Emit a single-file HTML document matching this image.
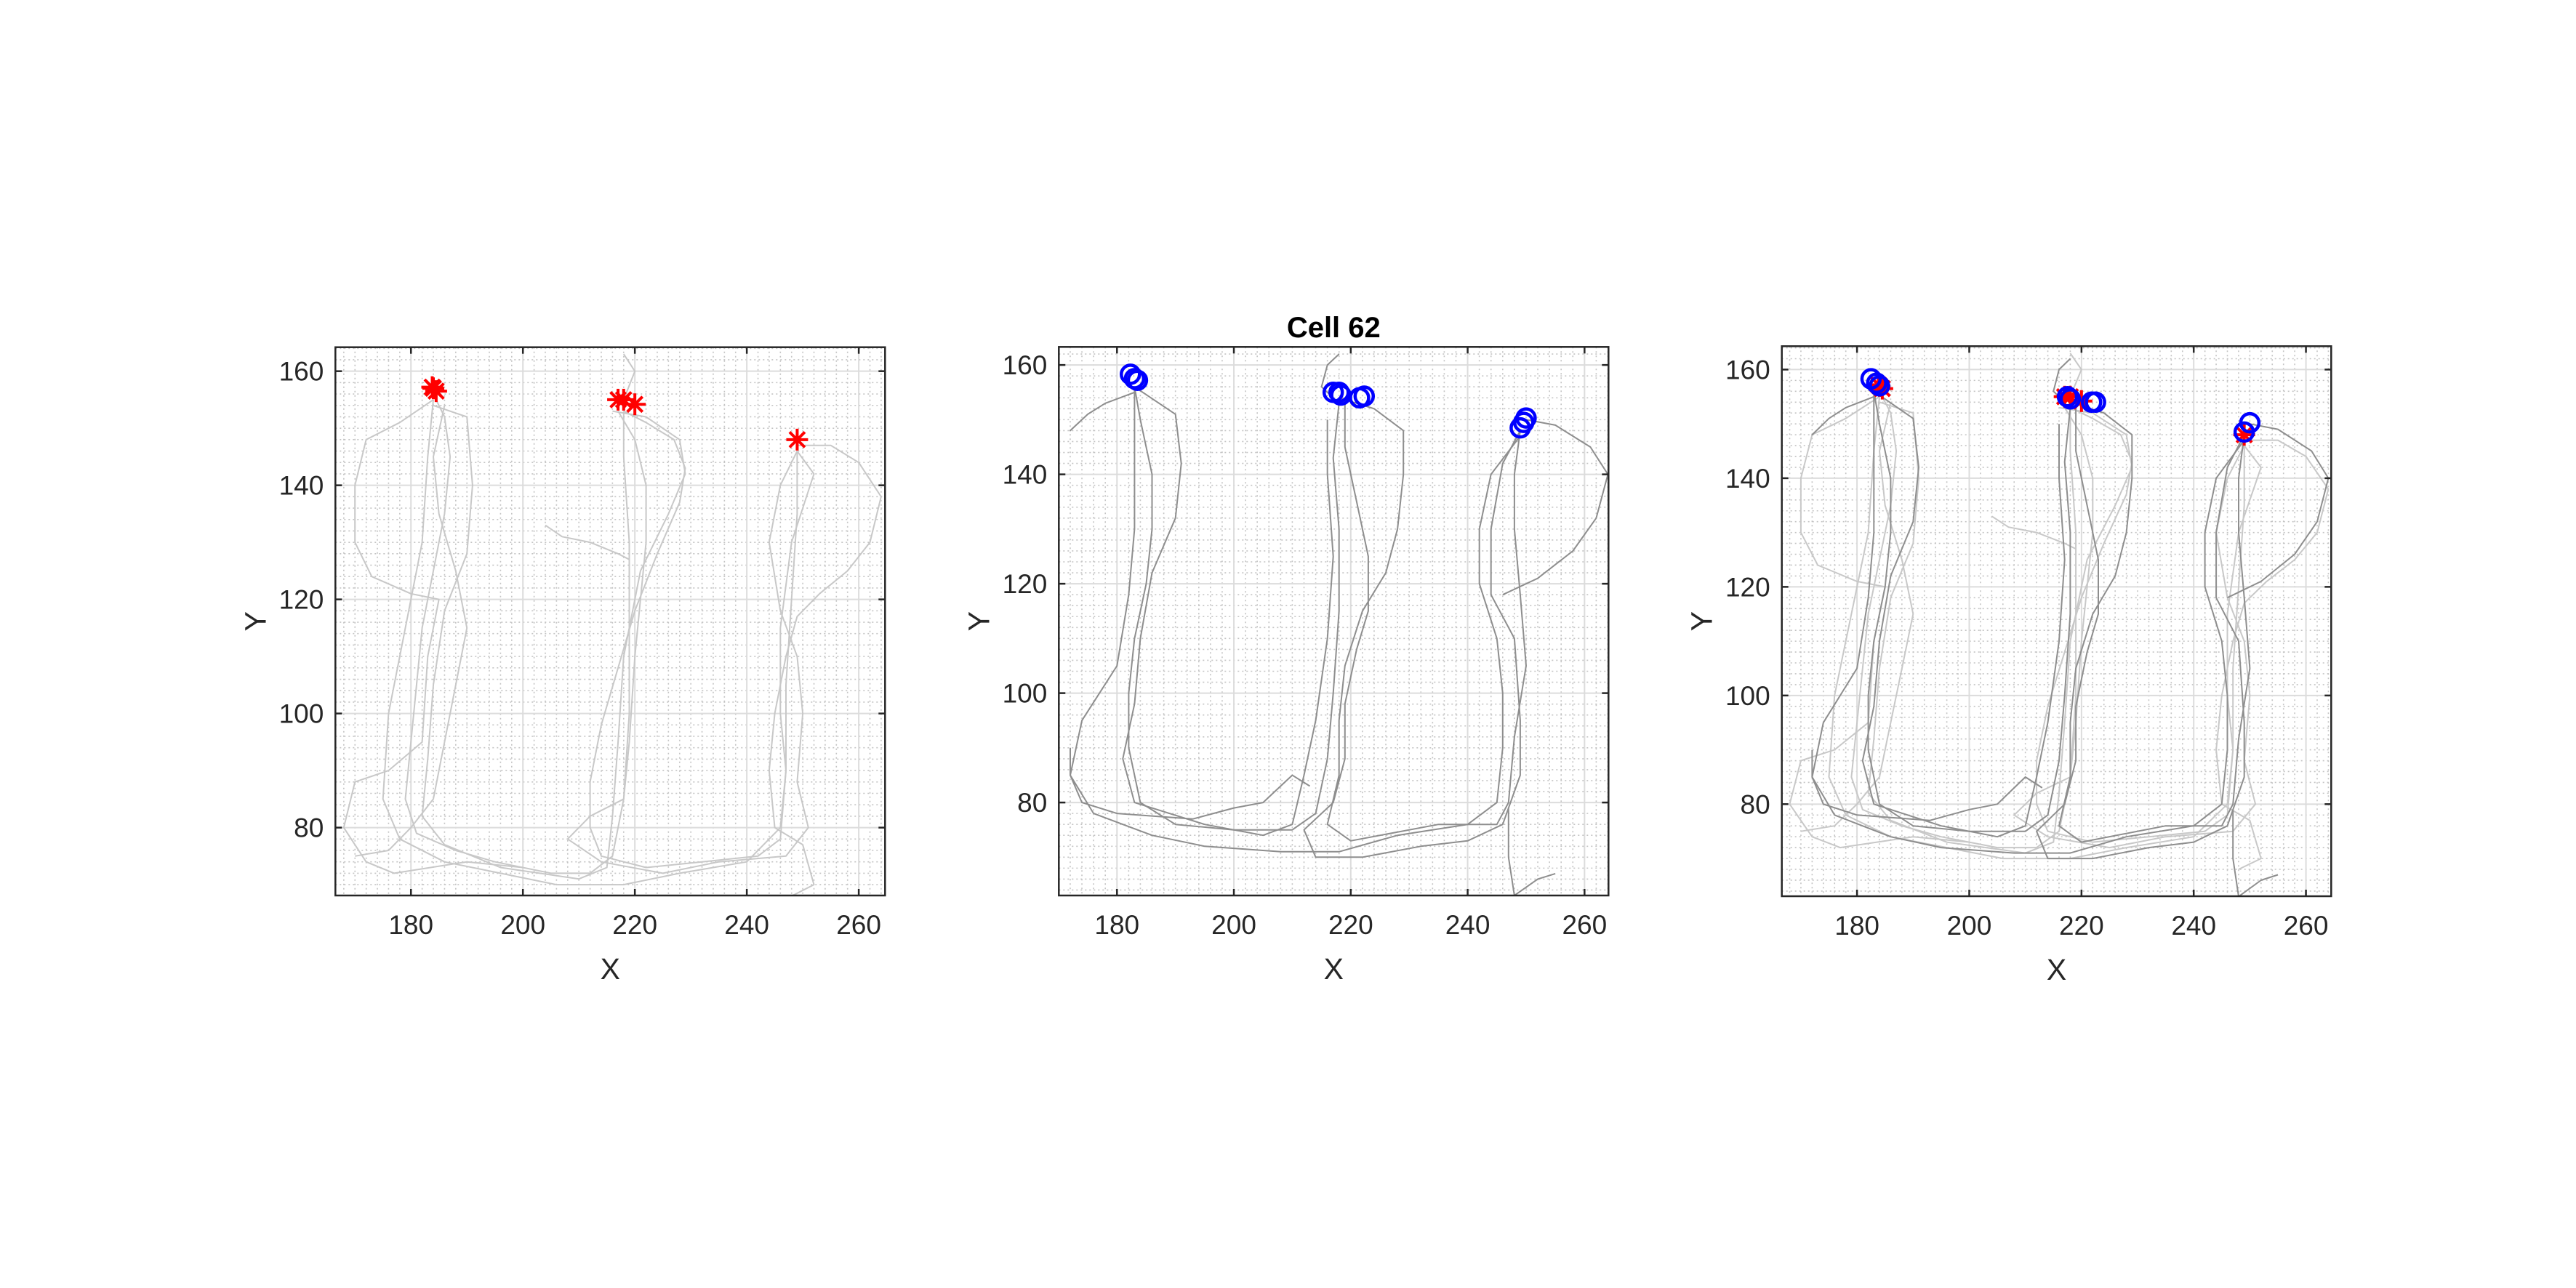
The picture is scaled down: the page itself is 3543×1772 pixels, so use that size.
<!DOCTYPE html>
<html><head><meta charset="utf-8"><style>
html,body{margin:0;padding:0;background:#fff;}
svg{display:block;}
text{font-family:"Liberation Sans",Arial,sans-serif;}
</style></head><body>
<svg id="fig" width="3543" height="1772" viewBox="0 0 3543 1772" xmlns="http://www.w3.org/2000/svg">
<rect width="3543" height="1772" fill="#fff"/>
</svg>
<script>
// ---- data ----
const xTicks = [180, 200, 220, 240, 260];
const yTicks = [80, 100, 120, 140, 160];
const sessionA = [
 [[184,156],[186,152],[187,145],[186,135],[184,125],[182,115],[181,105],[180,95],[179,85],[181,79],[188,76],[195,74],[205,72],[212,72],[216,75],[218,85],[219,100],[219,115],[219,130],[218,145],[218,153]],
 [[218,153],[222,151],[227,148],[229,143],[228,137],[224,128],[220,118],[217,108],[214,98],[212,88],[212,80],[214,75],[222,73],[232,74],[242,75],[246,78],[247,90],[247,105],[248,120],[249,135],[249,146]],
 [[249,146],[252,142],[248,130],[246,115],[246,100],[247,90],[246,80],[240,74],[228,72],[218,70],[206,70],[196,72],[186,74],[178,78],[175,85],[176,100],[179,115],[182,130],[183,145],[184,155]],
 [[184,154],[190,152],[191,140],[190,128],[186,118],[184,105],[183,92],[182,82],[186,77],[196,73],[210,71],[215,73],[216,82],[217,95],[218,110],[221,125],[226,135],[229,142],[228,148],[222,152],[216,153]],
 [[184,155],[178,151],[172,148],[170,140],[170,130],[173,124],[180,121],[185,120],[183,110],[182,95],[176,90],[170,88],[168,80],[172,74],[177,72],[190,74],[200,73]],
 [[249,147],[255,147],[260,144],[264,138],[262,130],[258,125],[253,121],[249,117],[247,110],[245,100],[244,90],[245,80],[250,77],[252,70],[248,68]],
 [[249,146],[246,140],[244,130],[246,118],[249,110],[250,100],[249,88],[251,80],[247,75],[235,74],[225,72],[214,74],[208,78],[212,82],[218,85],[219,95],[220,110],[221,120],[222,130],[222,140],[220,148],[217,153]],
 [[204,133],[207,131],[212,130],[217,128],[219,127]],
 [[218,163],[220,160],[218,155]],
 [[186,154],[184,145],[185,135],[188,125],[190,115],[188,105],[186,95],[184,85],[180,80],[176,76],[170,75]]
];
const sessionB = [
 [[183,156],[184,150],[186,140],[186,130],[185,120],[183,110],[182,100],[182,90],[184,80],[190,76],[200,75],[210,75],[214,78],[216,88],[217,100],[218,115],[218,130],[217,143],[218,153]],
 [[218,154],[224,152],[229,148],[229,140],[228,130],[226,122],[222,115],[219,105],[218,95],[218,85],[216,76],[220,73],[235,76],[245,76],[247,80],[248,92],[250,105],[249,118],[248,130],[248,140],[249,148]],
 [[249,147],[244,140],[242,130],[242,120],[245,110],[246,100],[246,90],[245,80],[240,76],[228,74],[218,71],[208,71],[195,72],[186,74],[176,78],[172,85],[174,95],[180,105],[182,118],[183,130],[183,145],[183,156]],
 [[183,156],[190,151],[191,142],[190,132],[186,122],[184,110],[183,98],[181,88],[183,80],[195,76],[205,74],[210,76],[212,85],[214,95],[216,110],[217,125],[216,140],[216,150]],
 [[219,154],[219,145],[221,135],[223,125],[223,115],[221,108],[219,98],[219,88],[217,80],[212,75],[214,70],[222,70],[232,72],[240,73],[246,76],[249,85],[249,95],[248,110],[244,118],[244,130],[246,142],[249,148]],
 [[250,150],[255,149],[261,145],[264,140],[262,132],[258,126],[252,121],[246,118]],
 [[183,155],[178,153],[175,151],[172,148],[174,150]],
 [[247,79],[247,70],[248,63],[252,66],[255,67]],
 [[213,83],[210,85],[207,82],[205,80],[200,79],[193,77],[180,78],[174,80],[172,85],[172,90]],
 [[218,162],[216,160],[215,156],[217,154]]
];
const spikeX = [184,184.5,183.8,217,218,220,249];
const spikeY = [157,156.5,157.2,155,155,154.2,148];
const circX = [182.3,183,183.5,217,218,218.3,221.5,222.3,249,249.6,250];
const circY = [158.3,157.5,157.2,155,155,154.5,154,154.3,148.5,149.5,150.3];
const circRX = [182.5,183.5,184,217.5,218,221.8,222.5,249,250];
const circRY = [158.3,157.5,157,155,154.6,154,154,148.5,150.2];

const panels = [
 {name:'left', L:461.3, T:477.7, R:1217.3, B:1232, xmin:166.5, xmax:264.7, ymin:68.1, ymax:164.2, A:true, Bs:false, red:true, blue:false, title:''},
 {name:'middle', L:1456.3, T:477.3, R:2212.3, B:1232, xmin:170.05, xmax:264.1, ymin:63.0, ymax:163.3, A:false, Bs:true, red:false, blue:true, title:'Cell 62'},
 {name:'right', L:2450.7, T:476.3, R:3206.3, B:1233, xmin:166.6, xmax:264.5, ymin:63.05, ymax:164.3, A:true, Bs:true, red:true, blue:true, title:''}
];
const NS='http://www.w3.org/2000/svg';
const fig=document.getElementById('fig');
function mk(tag,attrs,parent){const e=document.createElementNS(NS,tag);for(const k in attrs)e.setAttribute(k,attrs[k]);parent.appendChild(e);return e;}

panels.forEach(p=>{
 const g=mk('g',{},fig);
 
 
 const sx=v=>p.L+(v-p.xmin)/(p.xmax-p.xmin)*(p.R-p.L);
 const sy=v=>p.B-(v-p.ymin)/(p.ymax-p.ymin)*(p.B-p.T);
 const cid='clip-'+p.name;
 const cp=mk('clipPath',{id:cid},g); mk('rect',{x:p.L,y:p.T,width:p.R-p.L,height:p.B-p.T},cp);
 const mg=mk('g',{stroke:'#c4c4c4','stroke-width':1.6,'stroke-dasharray':'2 4'},g);
 
 
 for(let v=Math.ceil(p.xmin/2)*2; v<=p.xmax; v+=2){ if(v%20) mk('line',{x1:sx(v),x2:sx(v),y1:p.T,y2:p.B},mg); }
 for(let v=Math.ceil(p.ymin/2)*2; v<=p.ymax; v+=2){ if(v%20) mk('line',{x1:p.L,x2:p.R,y1:sy(v),y2:sy(v)},mg); }
 const Mg=mk('g',{stroke:'#dcdcdc','stroke-width':2},g);
 
 
 xTicks.forEach(v=>mk('line',{x1:sx(v),x2:sx(v),y1:p.T,y2:p.B},Mg));
 yTicks.forEach(v=>mk('line',{x1:p.L,x2:p.R,y1:sy(v),y2:sy(v)},Mg));
 const tg=mk('g',{'clip-path':'url(#'+cid+')',fill:'none','stroke-width':2,'stroke-linejoin':'round'},g);
 
 
 const drawSet=(set,col,nm)=>set.forEach(path=>{
   const d=path.map((pt,i)=>(i?'L':'M')+sx(pt[0]).toFixed(1)+' '+sy(pt[1]).toFixed(1)).join(' ');
   const el=mk('path',{d:d,stroke:col},tg);
   
   
 });
 if(p.A) drawSet(sessionA,'#c8c8c8','trajectory-session-a');
 if(p.Bs) drawSet(sessionB,'#8e8e8e','trajectory-session-b');
 if(p.red){
  spikeX.forEach((x,i)=>{
   const cx=sx(x), cy=sy(spikeY[i]), r=15;
   const s=mk('g',{stroke:'#ff0000','stroke-width':4},g);
   
   
   mk('line',{x1:cx-r,x2:cx+r,y1:cy,y2:cy},s);
   mk('line',{x1:cx,x2:cx,y1:cy-r,y2:cy+r},s);
   mk('line',{x1:cx-r*0.7,x2:cx+r*0.7,y1:cy-r*0.7,y2:cy+r*0.7},s);
   mk('line',{x1:cx-r*0.7,x2:cx+r*0.7,y1:cy+r*0.7,y2:cy-r*0.7},s);
  });
 }
 if(p.blue){
  const cxs=p.red?circRX:circX, cys=p.red?circRY:circY;
  cxs.forEach((x,i)=>{
   const c=mk('circle',{cx:sx(x),cy:sy(cys[i]),r:12.5,fill:'none',stroke:'#0000ff','stroke-width':4.5},g);
   
   
  });
 }
 const box=mk('rect',{x:p.L,y:p.T,width:p.R-p.L,height:p.B-p.T,fill:'none',stroke:'#262626','stroke-width':2.5},g);
 
 
 xTicks.forEach(v=>{
  mk('line',{x1:sx(v),x2:sx(v),y1:p.B,y2:p.B-9,stroke:'#262626','stroke-width':2.5},g);
  mk('line',{x1:sx(v),x2:sx(v),y1:p.T,y2:p.T+9,stroke:'#262626','stroke-width':2.5},g);
  const t=mk('text',{x:sx(v),y:p.B+53,'font-size':37,fill:'#262626','text-anchor':'middle'},g);
  t.textContent=v;
  
  
 });
 yTicks.forEach(v=>{
  mk('line',{x1:p.L,x2:p.L+9,y1:sy(v),y2:sy(v),stroke:'#262626','stroke-width':2.5},g);
  mk('line',{x1:p.R,x2:p.R-9,y1:sy(v),y2:sy(v),stroke:'#262626','stroke-width':2.5},g);
  const t=mk('text',{x:p.L-16,y:sy(v)+13,'font-size':37,fill:'#262626','text-anchor':'end'},g);
  t.textContent=v;
  
  
 });
 const xl=mk('text',{x:(p.L+p.R)/2,y:p.B+115,'font-size':41,fill:'#262626','text-anchor':'middle'},g);
 xl.textContent='X';
 
 
 const yc=(p.T+p.B)/2, yx=p.L-96;
 const yl=mk('text',{x:yx,y:yc,'font-size':41,fill:'#262626','text-anchor':'middle',transform:'rotate(-90 '+yx+' '+yc+')'},g);
 yl.textContent='Y';
 
 
 if(p.title){
  const tt=mk('text',{x:(p.L+p.R)/2,y:464,'font-size':40,'font-weight':'bold',fill:'#000','text-anchor':'middle'},g);
  tt.textContent=p.title;
  
  
 }
});
</script>
</body></html>
